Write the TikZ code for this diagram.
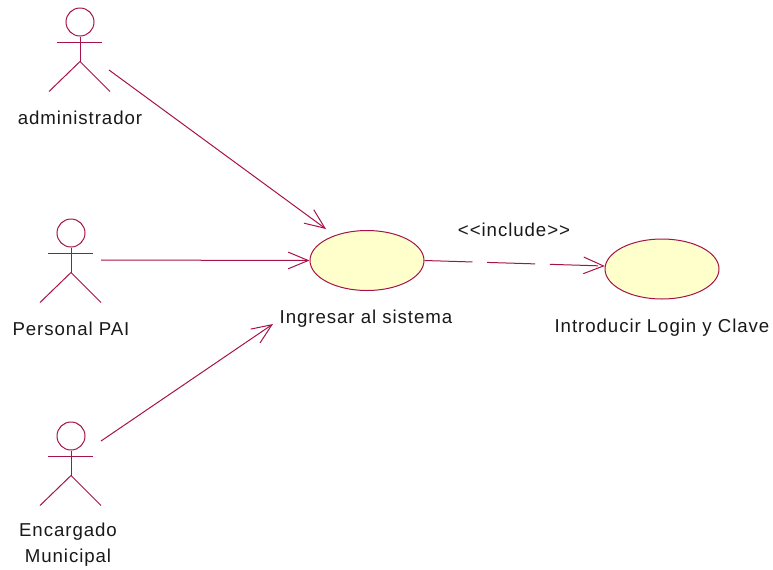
\documentclass[tikz,border=0pt]{standalone}
\usepackage{fontspec}
\setmainfont[LetterSpace=5]{Liberation Sans}
\usetikzlibrary{arrows.meta, calc, shapes.geometric}
\definecolor{umlline}{HTML}{A5134A}
\definecolor{umlfill}{HTML}{FFFFCB}
\tikzset{
  umlactor/.style={circle, draw=umlline, line width=0.75pt, inner sep=0pt, minimum size=21pt},
  usecase/.style={ellipse, draw=umlline, fill=umlfill, line width=0.75pt, inner sep=0pt, minimum width=85.5pt, minimum height=45pt},
  label/.style={inner sep=0pt, font=\fontsize{14}{19.5}\selectfont, text=black!90, align=center},
  assoc/.style={umlline, line width=0.75pt, -{Straight Barb[length=15pt,width=12.5pt]}},
  incl/.style={assoc, dash pattern=on 36pt off 11pt}
}

\begin{document}
\begin{tikzpicture}[x=0.75pt, y=-0.75pt]
\useasboundingbox (0,0) rectangle (773,569);

% Actores
\foreach \name/\x/\y in {admin/80/22, personal/71/233, encargado/71/436} {
  \node[umlactor] (\name) at (\x,\y) {};
  \draw[umlline, line width=0.75pt] (\name.south) -- ++(0,25) coordinate (\name hip);
  \draw[umlline, line width=0.75pt] ($(\name.south)+(-23,6)$) -- ($(\name.south)+(22,6)$);
  \draw[umlline, line width=0.75pt] ($(\name hip)+(-31,30)$) -- (\name hip) -- ($(\name hip)+(30,30)$);
}

% Nombres de los actores
\node[label] (adminlabel) at (80,118) {administrador};
\node[label] (personallabel) at (71,329) {Personal PAI};
\node[label] (encargadolabel) at (68,545) {Encargado\\Municipal};

% Casos de uso
\node[usecase] (ingresar) at (367,260.5) {};
\node[usecase] (login) at (662,269) {};
\node[label] (ingresarlabel) at (366,319) {Ingresar al sistema};
\node[label] (loginlabel) at (662,327.5) {Introducir Login y Clave};

% Asociaciones
\coordinate (adminend) at (109,70);
\coordinate (personalend) at (101,260);
\coordinate (encargadoend) at (101,441);
\coordinate (ingresartop) at (326,229);
\coordinate (ingresarlow) at (273,324);
\draw[assoc] (adminend) -- (ingresartop);
\draw[assoc] (personalend) -- (ingresar.west);
\draw[assoc] (encargadoend) -- (ingresarlow);

% Include
\draw[incl] (ingresar.east) -- (login.177);
\node[label] (include) at (514,230) {<{}<include>{}>};

\end{tikzpicture}
\end{document}
